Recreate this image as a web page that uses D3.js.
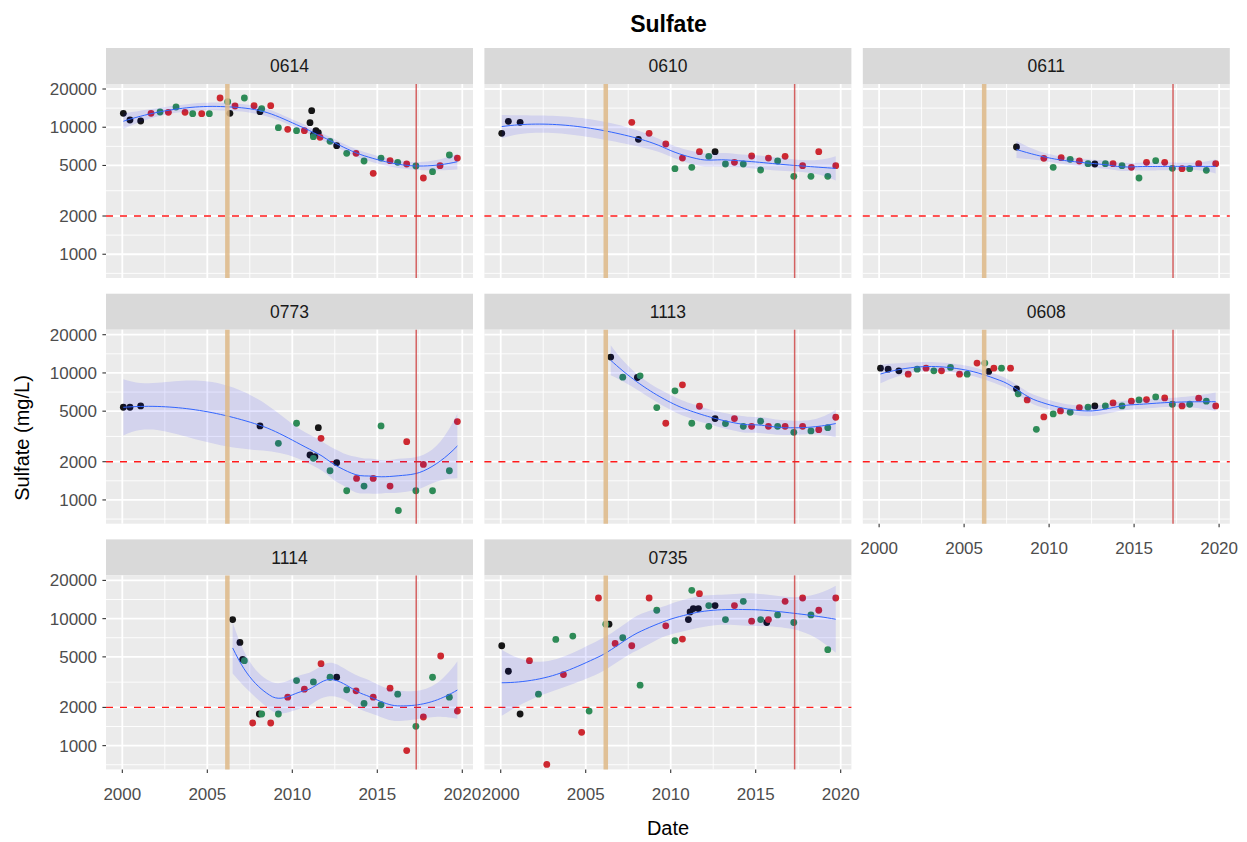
<!DOCTYPE html>
<html>
<head>
<meta charset="utf-8">
<script src="https://cdn.jsdelivr.net/npm/d3@7"></script>
<style>
  body { margin: 0; background: #ffffff; }
  text { font-family: "Liberation Sans", Arial, Helvetica, sans-serif; }
</style>
</head>
<body>
<svg id="chart" width="1247" height="842"></svg>
<script>
// Sulfate samples per well: [decimal year, mg/L, source] (k = black, r = red, g = green)
const st0614 = [
  [2000.06,12865,"k"],[2000.45,11400,"k"],[2001.08,11194,"k"],[2006.33,12865,"k"],[2008.10,13260,"k"],
  [2011.14,13500,"k"],[2011.04,10864,"k"],[2011.39,9397,"k"],[2011.53,9060,"k"],[2011.24,8687,"k"],[2012.61,7158,"k"],
  [2001.69,12865,"r"],[2002.71,13100,"r"],[2003.69,13100,"r"],[2004.67,12790,"r"],[2005.75,16990,"r"],
  [2006.63,14700,"r"],[2007.75,14785,"r"],[2008.73,14785,"r"],[2009.73,9625,"r"],[2010.71,9397,"r"],
  [2011.63,8326,"r"],[2013.75,6230,"r"],[2014.76,4335,"r"],[2015.75,5453,"r"],[2016.73,5133,"r"],
  [2017.71,3983,"r"],[2018.69,4982,"r"],[2019.71,5722,"r"],
  [2002.22,13180,"g"],[2003.16,14430,"g"],[2004.14,12790,"g"],[2005.12,12790,"g"],[2006.20,15900,"g"],
  [2007.18,16990,"g"],[2008.20,14000,"g"],[2009.18,9920,"g"],[2010.25,9397,"g"],[2011.24,8427,"g"],
  [2012.22,7745,"g"],[2013.20,6230,"g"],[2014.22,5420,"g"],[2015.22,5722,"g"],[2016.20,5290,"g"],
  [2017.27,4952,"g"],[2018.25,4467,"g"],[2019.24,6044,"g"]
];
const st0610 = [
  [2000.06,8954,"k"],[2000.45,11130,"k"],[2001.14,10928,"k"],[2008.10,8030,"k"],[2012.61,6422,"k"],
  [2007.71,10928,"r"],[2008.73,8954,"r"],[2009.71,7378,"r"],[2010.69,5722,"r"],[2011.69,6422,"r"],
  [2013.75,5290,"r"],[2014.76,5935,"r"],[2015.75,5722,"r"],[2016.73,5900,"r"],[2017.76,4982,"r"],
  [2018.71,6422,"r"],[2019.71,4982,"r"],
  [2010.25,4718,"g"],[2011.24,4833,"g"],[2012.24,5900,"g"],[2013.22,5133,"g"],[2014.27,5133,"g"],
  [2015.29,4605,"g"],[2016.29,5420,"g"],[2017.24,4106,"g"],[2018.25,4106,"g"],[2019.24,4106,"g"]
];
const st0611 = [
  [2008.08,6988,"k"],[2012.69,5133,"k"],
  [2009.69,5689,"r"],[2010.71,5759,"r"],[2011.78,5420,"r"],[2013.76,5165,"r"],[2014.84,4833,"r"],
  [2015.73,5290,"r"],[2016.80,5290,"r"],[2017.82,4718,"r"],[2018.80,5165,"r"],[2019.80,5165,"r"],
  [2010.24,4833,"g"],[2011.24,5588,"g"],[2012.29,5165,"g"],[2013.31,5165,"g"],[2014.29,4982,"g"],
  [2015.29,3983,"g"],[2016.27,5453,"g"],[2017.25,4746,"g"],[2018.27,4718,"g"],[2019.25,4578,"g"]
];
const st0773 = [
  [2000.06,5370,"k"],[2000.45,5370,"k"],[2001.08,5503,"k"],[2008.10,3824,"k"],[2011.53,3710,"k"],
  [2011.04,2258,"k"],[2011.33,2191,"k"],[2012.61,1964,"k"],
  [2011.69,3056,"r"],[2013.78,1477,"r"],[2014.76,1477,"r"],[2015.75,1285,"r"],[2016.73,2877,"r"],
  [2017.71,1905,"r"],[2019.71,4139,"r"],
  [2009.18,2791,"g"],[2010.25,4015,"g"],[2011.24,2125,"g"],[2012.22,1698,"g"],[2013.20,1181,"g"],
  [2014.22,1285,"g"],[2015.22,3824,"g"],[2016.24,826,"g"],[2017.27,1181,"g"],[2018.25,1181,"g"],
  [2019.24,1698,"g"]
];
const st1113 = [
  [2006.47,13325,"k"],[2008.04,9210,"k"],[2012.61,4370,"k"],
  [2009.71,4015,"r"],[2010.69,8060,"r"],[2011.69,5467,"r"],[2013.75,4370,"r"],[2014.76,3800,"r"],
  [2015.75,3800,"r"],[2016.73,3800,"r"],[2017.76,3800,"r"],[2018.71,3577,"r"],[2019.71,4477,"r"],
  [2007.18,9265,"g"],[2008.20,9490,"g"],[2009.18,5337,"g"],[2010.25,7226,"g"],[2011.24,4015,"g"],
  [2012.24,3800,"g"],[2013.22,3990,"g"],[2014.27,3800,"g"],[2015.29,4164,"g"],[2016.29,3800,"g"],
  [2017.24,3408,"g"],[2018.25,3492,"g"],[2019.24,3710,"g"]
];
const st0608 = [
  [2000.08,10910,"k"],[2000.53,10713,"k"],[2001.16,10394,"k"],[2006.45,10270,"k"],[2008.08,7493,"k"],
  [2012.69,5503,"k"],
  [2001.71,9783,"r"],[2002.76,10910,"r"],[2003.67,10394,"r"],[2004.73,9783,"r"],[2005.76,11950,"r"],
  [2006.75,10910,"r"],[2007.73,10910,"r"],[2008.71,6135,"r"],[2009.69,4504,"r"],[2010.67,5023,"r"],
  [2011.78,5337,"r"],[2013.76,5810,"r"],[2014.84,5988,"r"],[2015.73,6173,"r"],[2016.80,6362,"r"],
  [2017.82,5503,"r"],[2018.80,6324,"r"],[2019.80,5503,"r"],
  [2002.24,10713,"g"],[2003.22,10394,"g"],[2004.20,11045,"g"],[2005.18,9783,"g"],[2006.22,11950,"g"],
  [2007.20,10910,"g"],[2008.18,6843,"g"],[2009.25,3600,"g"],[2010.24,4757,"g"],[2011.24,4904,"g"],
  [2012.29,5370,"g"],[2013.31,5503,"g"],[2014.29,5503,"g"],[2015.29,6135,"g"],[2016.27,6478,"g"],
  [2017.25,5668,"g"],[2018.27,5668,"g"],[2019.25,5988,"g"]
];
const st1114 = [
  [2006.49,9838,"k"],[2006.92,6496,"k"],[2007.08,4782,"k"],[2008.06,1774,"k"],[2012.61,3456,"k"],
  [2007.67,1508,"r"],[2008.73,1508,"r"],[2009.73,2409,"r"],[2010.71,2784,"r"],[2011.69,4421,"r"],
  [2013.75,2701,"r"],[2014.76,2409,"r"],[2015.75,2835,"r"],[2016.73,915,"r"],[2017.71,1680,"r"],
  [2018.73,5078,"r"],[2019.71,1872,"r"],
  [2007.18,4669,"g"],[2008.20,1774,"g"],[2009.18,1774,"g"],[2010.25,3254,"g"],[2011.24,3177,"g"],
  [2012.22,3456,"g"],[2013.20,2751,"g"],[2014.22,2150,"g"],[2015.22,2099,"g"],[2016.20,2543,"g"],
  [2017.27,1420,"g"],[2018.25,3456,"g"],[2019.24,2409,"g"]
];
const st0735 = [
  [2000.06,6118,"k"],[2000.45,3851,"k"],[2001.14,1774,"k"],[2006.37,9045,"k"],[2011.04,9838,"k"],
  [2011.14,11298,"k"],[2011.33,12000,"k"],[2011.63,12000,"k"],[2012.61,12664,"k"],[2015.65,9320,"k"],
  [2001.69,4669,"r"],[2002.71,711,"r"],[2003.69,3627,"r"],[2004.76,1274,"r"],[2005.75,14540,"r"],
  [2006.73,6381,"r"],[2007.71,6118,"r"],[2008.73,14540,"r"],[2009.71,8776,"r"],[2010.69,6902,"r"],
  [2011.69,15726,"r"],[2013.75,12664,"r"],[2014.76,9548,"r"],[2015.75,9838,"r"],[2016.73,13690,"r"],
  [2017.76,14540,"r"],[2018.71,11641,"r"],[2019.71,14540,"r"],
  [2002.22,2543,"g"],[2003.24,6860,"g"],[2004.24,7288,"g"],[2005.20,1872,"g"],[2006.18,9045,"g"],
  [2007.18,7069,"g"],[2008.20,2991,"g"],[2009.18,11641,"g"],[2010.25,6697,"g"],[2011.24,16700,"g"],
  [2012.24,12664,"g"],[2013.22,9838,"g"],[2014.27,13690,"g"],[2015.29,9838,"g"],[2016.29,10703,"g"],
  [2017.24,9320,"g"],[2018.25,10703,"g"],[2019.24,5692,"g"]
];

const wellIds   = ["0614", "0610", "0611", "0773", "1113", "0608", "1114", "0735"];
const wellData  = [st0614, st0610, st0611, st0773, st1113, st0608, st1114, st0735];
const yBreaks   = [1000, 2000, 5000, 10000, 20000];
const xBreaks   = [2000, 2005, 2010, 2015, 2020];
const eventYears = [2006.18, 2017.29];   // treatment start, later event
const threshold = 2000;                  // mg/L reference level

// ---------- local regression (loess: degree 2, span 0.75, kd-tree vertex interpolation) ----------
// Operator rows for the local intercept and slope at x0.
function localRows(xs, x0, span) {
  const n = xs.length, q = Math.floor(n * span);
  const d = xs.map(x => Math.abs(x - x0));
  const h = d.slice().sort((a, b) => a - b)[q - 1] || 1e-9;
  const w = d.map(di => { const u = di / h; return u < 1 ? Math.pow(1 - u * u * u, 3) : 0; });
  const S = [[0,0,0],[0,0,0],[0,0,0]];
  xs.forEach((x, i) => {
    const t = x - x0, p = [1, t, t * t];
    for (let a = 0; a < 3; a++) for (let b = 0; b < 3; b++) S[a][b] += w[i] * p[a] * p[b];
  });
  const inv = invert3(S);
  const r0 = xs.map((x, i) => { const t = x - x0; return w[i] * (inv[0][0] + inv[0][1] * t + inv[0][2] * t * t); });
  const r1 = xs.map((x, i) => { const t = x - x0; return w[i] * (inv[1][0] + inv[1][1] * t + inv[1][2] * t * t); });
  return [r0, r1];
}
function invert3(m) {
  const [a,b,c] = m[0], [d,e,f] = m[1], [g,h,k] = m[2];
  const A = e*k - f*h, B = -(d*k - f*g), C = d*h - e*g;
  const det = a*A + b*B + c*C;
  return [
    [A/det, -(b*k - c*h)/det, (b*f - c*e)/det],
    [B/det, (a*k - c*g)/det, -(a*f - c*d)/det],
    [C/det, -(a*h - b*g)/det, (a*e - b*d)/det]
  ];
}
// Cell vertices: box slightly wider than the data, split at medians until cells are small.
function kdVertices(xs, span) {
  const sx = xs.slice().sort((a, b) => a - b), n = sx.length;
  const fc = Math.floor(n * span * 0.2);
  const mu = 0.005 * Math.max(sx[n - 1] - sx[0], 1e-10);
  const verts = [sx[0] - mu, sx[n - 1] + mu];
  (function split(l, u, vlo, vhi) {          // 1-based inclusive index range
    if (u - l + 1 <= fc) return;
    let m = Math.floor((l + u) / 2);
    let off = 0;
    while (m + off < u && m + off >= l) {
      if (sx[m + off - 1] === sx[m + off]) { off = -off; if (off >= 0) off += 1; }
      else { m = m + off; break; }
    }
    const v = sx[m - 1];
    if (v === vlo || v === vhi) return;
    verts.push(v);
    split(l, m, vlo, v);
    split(m + 1, u, v, vhi);
  })(1, n, verts[0], verts[1]);
  return verts.sort((a, b) => a - b);
}
function qt975(df) {
  const z = 1.959964, z3 = z**3, z5 = z**5, z7 = z**7, z9 = z**9;
  return z + (z3 + z) / 4 / df + (5*z5 + 16*z3 + 3*z) / 96 / df**2
           + (3*z7 + 19*z5 + 17*z3 - 15*z) / 384 / df**3
           + (79*z9 + 776*z7 + 1482*z5 - 1920*z3 - 945*z) / 92160 / df**4;
}
function smooth(data, nOut = 80, span = 0.75) {
  const xs = data.map(d => d[0]), ys = data.map(d => Math.log10(d[1]));
  const n = xs.length;
  const verts = kdVertices(xs, span);
  const vrows = verts.map(v => localRows(xs, v, span));
  // Hermite interpolation of the operator between neighbouring vertices
  function rowAt(x0) {
    let j = 0;
    while (j < verts.length - 2 && x0 > verts[j + 1]) j++;
    const v0 = verts[j], v1 = verts[j + 1], hh = v1 - v0, t = (x0 - v0) / hh;
    const p0 = (1 - t) * (1 - t) * (1 + 2 * t), p1 = t * t * (3 - 2 * t);
    const s0 = t * (1 - t) * (1 - t) * hh, s1 = -t * t * (1 - t) * hh;
    const A = vrows[j], B = vrows[j + 1];
    return xs.map((_, i) => p0 * A[0][i] + p1 * B[0][i] + s0 * A[1][i] + s1 * B[1][i]);
  }
  const L = xs.map(rowAt);
  const fitted = L.map(r => d3.sum(r, (l, j) => l * ys[j]));
  const rss = d3.sum(ys, (y, i) => (y - fitted[i]) ** 2);
  const IL = L.map((r, i) => r.map((l, j) => (i === j ? 1 : 0) - l));
  const M = [];
  for (let i = 0; i < n; i++) { M.push([]); for (let j = 0; j < n; j++) { let s = 0; for (let k = 0; k < n; k++) s += IL[k][i] * IL[k][j]; M[i].push(s); } }
  let d1 = 0, d2 = 0;
  for (let i = 0; i < n; i++) { d1 += M[i][i]; for (let j = 0; j < n; j++) d2 += M[i][j] * M[j][i]; }
  const s = Math.sqrt(rss / d1), tq = qt975(d1 * d1 / d2);
  const [lo, hi] = d3.extent(xs);
  return d3.range(nOut).map(k => {
    const x0 = lo + (hi - lo) * k / (nOut - 1);
    const r = rowAt(x0);
    const fit = d3.sum(r, (l, j) => l * ys[j]);
    const se = s * Math.sqrt(d3.sum(r, l => l * l));
    return { x: x0, fit: 10 ** fit, lower: 10 ** (fit - tq * se), upper: 10 ** (fit + tq * se) };
  });
}

// ---------- layout ----------
const svg = d3.select("#chart");
const colLeft = [106, 484.4, 862.8], panelW = 367;
const rowTop = [48, 293.7, 539.4], stripH = 36, panelH = 194;
const colour = d3.scaleOrdinal().domain(["k", "r", "g"]).range(["#151515", "#CD2830", "#2E8B57"]);

const x = d3.scaleLinear().domain([1999.04, 2020.63]).range([0, panelW]);
const y = d3.scaleLog().domain([650, 21900]).range([panelH, 0]);

const xMinor = xBreaks.slice(0, -1).map((b, i) => (b + xBreaks[i + 1]) / 2);
const lb = yBreaks.map(Math.log10);
const yMinorLog = [lb[0] - (lb[1] - lb[0]) / 2]
  .concat(lb.slice(0, -1).map((b, i) => (b + lb[i + 1]) / 2))
  .concat([lb[lb.length - 1] + (lb[lb.length - 1] - lb[lb.length - 2]) / 2]);
const yMinor = yMinorLog.map(v => 10 ** v).filter(v => v >= y.domain()[0] && v <= y.domain()[1]);

svg.append("rect").attr("width", 1247).attr("height", 842).attr("fill", "#ffffff");

wellIds.forEach((id, i) => {
  const row = Math.floor(i / 3), col = i % 3;
  const g = svg.append("g").attr("transform", `translate(${colLeft[col]},${rowTop[row]})`);

  // strip
  g.append("rect").attr("width", panelW).attr("height", stripH).attr("fill", "#D9D9D9");
  g.append("text").attr("x", panelW / 2).attr("y", stripH / 2).attr("dy", "0.35em")
    .attr("text-anchor", "middle").attr("font-size", 17.5).attr("fill", "#1A1A1A").text(id);

  const p = g.append("g").attr("transform", `translate(0,${stripH})`);
  p.append("rect").attr("width", panelW).attr("height", panelH).attr("fill", "#EBEBEB");

  // grid
  p.selectAll(".ymin").data(yMinor).join("line")
    .attr("x1", 0).attr("x2", panelW).attr("y1", d => y(d)).attr("y2", d => y(d))
    .attr("stroke", "#fff").attr("stroke-width", 0.9);
  p.selectAll(".xmin").data(xMinor).join("line")
    .attr("y1", 0).attr("y2", panelH).attr("x1", d => x(d)).attr("x2", d => x(d))
    .attr("stroke", "#fff").attr("stroke-width", 0.9);
  p.selectAll(".ymaj").data(yBreaks).join("line")
    .attr("x1", 0).attr("x2", panelW).attr("y1", d => y(d)).attr("y2", d => y(d))
    .attr("stroke", "#fff").attr("stroke-width", 1.8);
  p.selectAll(".xmaj").data(xBreaks).join("line")
    .attr("y1", 0).attr("y2", panelH).attr("x1", d => x(d)).attr("x2", d => x(d))
    .attr("stroke", "#fff").attr("stroke-width", 1.8);

  // threshold line
  p.append("line").attr("x1", 0).attr("x2", panelW).attr("y1", y(threshold)).attr("y2", y(threshold))
    .attr("stroke", "#FF1A1A").attr("stroke-width", 1.4).attr("stroke-dasharray", "7,7");

  // points
  const data = wellData[i];
  p.selectAll("circle").data(data).join("circle")
    .attr("cx", d => x(d[0])).attr("cy", d => y(d[1])).attr("r", 3.4)
    .attr("fill", d => colour(d[2]));

  // smooth with confidence band
  const sm = smooth(data);
  p.append("path").datum(sm)
    .attr("d", d3.area().x(d => x(d.x)).y0(d => y(d.lower)).y1(d => y(d.upper)))
    .attr("fill", "#0000FF").attr("fill-opacity", 0.1);
  p.append("path").datum(sm)
    .attr("d", d3.line().x(d => x(d.x)).y(d => y(d.fit)))
    .attr("fill", "none").attr("stroke", "#3366FF").attr("stroke-width", 1);

  // event markers
  p.append("line").attr("x1", x(eventYears[0])).attr("x2", x(eventYears[0])).attr("y1", 0).attr("y2", panelH)
    .attr("stroke", "#DEB887").attr("stroke-opacity", 0.85).attr("stroke-width", 4.5);
  p.append("line").attr("x1", x(eventYears[1])).attr("x2", x(eventYears[1])).attr("y1", 0).attr("y2", panelH)
    .attr("stroke", "#CC3333").attr("stroke-opacity", 0.75).attr("stroke-width", 1.5);

  // y axis on first column
  if (col === 0) {
    const ya = p.append("g");
    yBreaks.forEach(b => {
      ya.append("line").attr("x1", -3.6).attr("x2", 0).attr("y1", y(b)).attr("y2", y(b))
        .attr("stroke", "#333333").attr("stroke-width", 1.1);
      ya.append("text").attr("x", -9).attr("y", y(b)).attr("dy", "0.35em").attr("text-anchor", "end")
        .attr("font-size", 17).attr("fill", "#4D4D4D").text(b);
    });
  }
  // x axis where no panel sits below
  if (i + 3 >= wellIds.length) {
    const xa = p.append("g").attr("transform", `translate(0,${panelH})`);
    xBreaks.forEach(b => {
      xa.append("line").attr("x1", x(b)).attr("x2", x(b)).attr("y1", 0).attr("y2", 3.6)
        .attr("stroke", "#333333").attr("stroke-width", 1.1);
      xa.append("text").attr("x", x(b)).attr("y", 24.5).attr("dy", "0.35em").attr("text-anchor", "middle")
        .attr("font-size", 17).attr("fill", "#4D4D4D").text(b);
    });
  }
});

// titles
svg.append("text").attr("x", 668.5).attr("y", 24).attr("dy", "0.35em").attr("text-anchor", "middle")
  .attr("font-size", 23).attr("font-weight", "bold").attr("fill", "#000").text("Sulfate");
svg.append("text").attr("x", 668).attr("y", 828).attr("dy", "0.35em").attr("text-anchor", "middle")
  .attr("font-size", 20).attr("fill", "#000").text("Date");
svg.append("text").attr("transform", "translate(22,438) rotate(-90)").attr("dy", "0.35em")
  .attr("text-anchor", "middle").attr("font-size", 20).attr("fill", "#000").text("Sulfate (mg/L)");
</script>
</body>
</html>
